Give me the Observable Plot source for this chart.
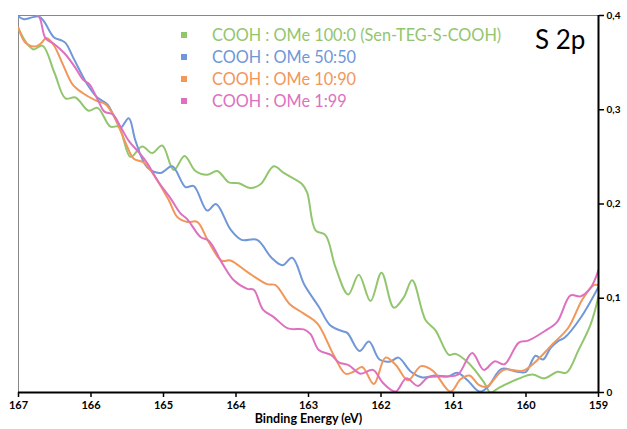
<!DOCTYPE html>
<html><head><meta charset="utf-8">
<script src="https://cdn.jsdelivr.net/npm/d3@7"></script>
<script src="https://cdn.jsdelivr.net/npm/@observablehq/plot@0.6"></script>
<style>
body{margin:0;background:#fff;font-family:Lato,"Open Sans",sans-serif}
#wrap{position:relative;width:627px;height:429px}
#legend{position:absolute;left:181px;top:24px}
.row{height:22.1px;display:flex;align-items:center;font-size:16.3px;line-height:22px;white-space:nowrap}
.sw{width:6px;height:6px;margin-right:25px}
#title{position:absolute;left:535px;top:23px;font-size:26px;color:#000}
</style>
</head><body>
<div id="wrap"><div id="chart"></div><div id="legend"></div><div id="title">S 2p</div></div>
<script>
const seriesNames = ["COOH : OMe 100:0 (Sen-TEG-S-COOH)", "COOH : OMe 50:50", "COOH : OMe 10:90", "COOH : OMe 1:99"];
const seriesColors = ["#92c66e", "#7097d8", "#f2965a", "#de70c0"];
const xTicks = [167, 166, 165, 164, 163, 162, 161, 160, 159];
const yTicks = [0, 0.1, 0.2, 0.3, 0.4];
const xLabel = "Binding Energy (eV)";

const greenE = [167.000,166.890,166.793,166.669,166.503,166.352,166.214,166.034,165.910,165.731,165.621,165.455,165.294,165.156,165.018,164.858,164.710,164.559,164.397,164.259,164.099,163.961,163.800,163.662,163.479,163.341,163.087,163.018,162.903,162.766,162.628,162.452,162.306,162.145,161.993,161.823,161.686,161.570,161.386,161.248,161.064,160.972,160.789,160.582,160.490,160.375,160.121,159.910,159.745,159.566,159.441,159.276,159.110,159.000];
const greenI = [0.386,0.371,0.364,0.368,0.339,0.312,0.313,0.299,0.302,0.282,0.282,0.250,0.261,0.254,0.262,0.236,0.251,0.235,0.231,0.235,0.223,0.222,0.217,0.221,0.240,0.233,0.221,0.212,0.172,0.167,0.133,0.104,0.125,0.097,0.127,0.090,0.101,0.119,0.077,0.066,0.040,0.041,0.031,0.011,0.000,0.005,0.014,0.019,0.015,0.022,0.021,0.045,0.072,0.102];

const blueE = [167.000,166.927,166.811,166.720,166.651,166.513,166.421,166.352,166.237,166.052,165.914,165.777,165.662,165.593,165.479,165.386,165.225,165.041,164.880,164.697,164.582,164.397,164.276,164.076,163.924,163.708,163.510,163.359,163.225,163.055,162.858,162.697,162.531,162.462,162.297,162.166,162.021,161.869,161.759,161.586,161.428,161.248,161.076,160.949,160.807,160.641,160.524,160.338,160.121,160.000,159.869,159.766,159.662,159.548,159.469,159.248,159.000];
const blueI = [0.399,0.396,0.398,0.399,0.394,0.377,0.374,0.371,0.354,0.327,0.313,0.306,0.290,0.281,0.291,0.267,0.239,0.233,0.240,0.218,0.219,0.193,0.200,0.173,0.162,0.162,0.143,0.135,0.143,0.114,0.091,0.071,0.065,0.063,0.044,0.054,0.035,0.033,0.037,0.022,0.016,0.018,0.017,0.021,0.013,0.001,0.006,0.025,0.022,0.022,0.039,0.035,0.047,0.055,0.058,0.079,0.112];

const orangeE = [167.000,166.903,166.779,166.697,166.614,166.517,166.393,166.255,166.121,165.938,165.800,165.662,165.524,165.410,165.272,165.110,164.927,164.807,164.669,164.535,164.379,164.200,164.076,163.846,163.570,163.455,163.262,163.069,162.876,162.655,162.490,162.379,162.259,162.099,161.938,161.793,161.628,161.448,161.283,161.041,160.903,160.779,160.651,160.545,160.306,160.048,159.891,159.625,159.414,159.221,159.065,159.000];
const orangeI = [0.387,0.371,0.367,0.370,0.376,0.369,0.349,0.327,0.318,0.310,0.306,0.290,0.265,0.248,0.244,0.228,0.204,0.186,0.181,0.181,0.160,0.140,0.140,0.128,0.115,0.114,0.094,0.084,0.073,0.040,0.020,0.022,0.027,0.009,0.037,0.029,0.013,0.028,0.023,0.001,0.014,0.018,0.008,0.006,0.024,0.023,0.031,0.052,0.069,0.099,0.114,0.114];

const pinkE = [167.000,166.834,166.720,166.628,166.513,166.366,166.228,166.110,166.021,165.897,165.814,165.697,165.593,165.479,165.331,165.221,165.083,164.903,164.766,164.673,164.490,164.375,164.190,164.030,163.846,163.754,163.628,163.479,163.283,163.065,162.972,162.858,162.690,162.582,162.448,162.283,162.110,161.972,161.800,161.651,161.490,161.352,161.097,160.938,160.742,160.582,160.434,160.297,160.099,159.972,159.745,159.570,159.386,159.248,159.110,159.000];
const pinkI = [0.403,0.403,0.399,0.376,0.370,0.360,0.346,0.332,0.327,0.309,0.298,0.295,0.282,0.267,0.254,0.243,0.225,0.206,0.190,0.184,0.165,0.161,0.137,0.119,0.110,0.109,0.088,0.080,0.068,0.067,0.062,0.045,0.040,0.032,0.029,0.020,0.024,0.010,0.001,0.015,0.007,0.016,0.017,0.019,0.042,0.024,0.033,0.030,0.053,0.055,0.065,0.075,0.103,0.102,0.111,0.130];

const seriesE = [greenE, blueE, orangeE, pinkE];
const seriesI = [greenI, blueI, orangeI, pinkI];
const rows = [];
seriesNames.forEach((name, k) => {
  seriesE[k].forEach((e, i) => rows.push({series: name, e, v: seriesI[k][i]}));
});

const fmt = d => String(d).replace(".", ",");

const chart = Plot.plot({
  width: 627, height: 429,
  marginLeft: 18, marginRight: 29, marginTop: 15, marginBottom: 37,
  style: {fontFamily: "Lato, 'Open Sans', sans-serif", fontSize: "11px", background: "#fff", color: "#000"},
  x: {domain: [167, 159], label: null},
  y: {domain: [0, 0.4], label: null},
  color: {domain: seriesNames, range: seriesColors},
  marks: [
    Plot.frame({stroke: "#888", strokeWidth: 1}),
    Plot.line(rows, {x: "e", y: "v", z: "series", stroke: "series", curve: "catmull-rom", strokeWidth: 2, clip: true}),
    Plot.ruleY([0], {stroke: "#000", strokeWidth: 2}),
    Plot.ruleX([159], {stroke: "#000", strokeWidth: 2}),
    Plot.axisX({ticks: xTicks, tickFormat: d => d, tickSize: 5, tickPadding: 4, fontWeight: "bold", fontSize: 11, strokeWidth: 1.5, label: null}),
    Plot.axisY({anchor: "right", ticks: yTicks, tickFormat: fmt, tickSize: 5, tickPadding: 3, fontWeight: "bold", fontSize: 10, strokeWidth: 1.5, label: null}),
    Plot.text([xLabel], {text: d => d, frameAnchor: "bottom", dy: 30, fontWeight: "bold", fontSize: 12.5})
  ]
});
document.getElementById("chart").appendChild(chart);

const leg = document.getElementById("legend");
seriesNames.forEach((n, k) => {
  const r = document.createElement("div");
  r.className = "row";
  r.style.color = seriesColors[k];
  r.innerHTML = `<span class="sw" style="background:${seriesColors[k]}"></span><span>${n}</span>`;
  leg.appendChild(r);
});
</script>
</body></html>
